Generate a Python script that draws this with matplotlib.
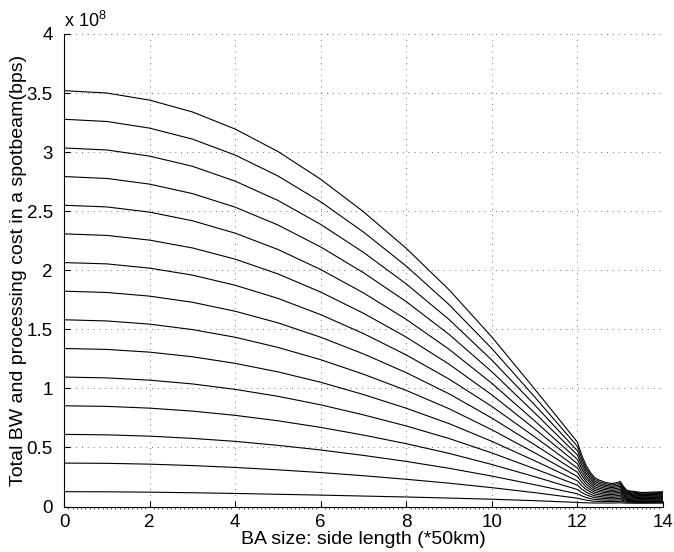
import matplotlib
matplotlib.use('Agg')
import matplotlib.pyplot as plt
from matplotlib.ticker import MultipleLocator, FuncFormatter

plt.rcParams['font.family'] = ['Liberation Sans', 'DejaVu Sans']
plt.rcParams['mathtext.default'] = 'regular'

# BA side length (*50km); values below are in units of 1e8 bps
x_main = [0, 1, 2, 3, 4, 5, 6, 7, 8, 9, 10, 11, 12]
x_tail = [12.1, 12.2, 12.3, 12.4, 12.5, 12.65, 12.8, 12.95, 13.0, 13.08, 13.16, 13.5, 14.0]

# one row per curve, bottom curve first (x = 0..12)
cost_main = [
    [0.126, 0.125, 0.122, 0.117, 0.111, 0.104, 0.097, 0.089, 0.081, 0.072, 0.062, 0.050, 0.035],
    [0.368, 0.366, 0.359, 0.347, 0.331, 0.311, 0.288, 0.261, 0.231, 0.198, 0.160, 0.118, 0.071],
    [0.611, 0.607, 0.596, 0.577, 0.552, 0.518, 0.479, 0.433, 0.382, 0.324, 0.258, 0.185, 0.108],
    [0.853, 0.848, 0.833, 0.808, 0.772, 0.726, 0.670, 0.605, 0.532, 0.450, 0.356, 0.253, 0.144],
    [1.096, 1.089, 1.070, 1.038, 0.992, 0.933, 0.861, 0.776, 0.682, 0.576, 0.454, 0.320, 0.181],
    [1.338, 1.330, 1.307, 1.268, 1.212, 1.140, 1.052, 0.948, 0.832, 0.702, 0.552, 0.388, 0.217],
    [1.581, 1.571, 1.544, 1.498, 1.433, 1.347, 1.243, 1.120, 0.983, 0.828, 0.650, 0.455, 0.254],
    [1.823, 1.812, 1.781, 1.729, 1.653, 1.555, 1.433, 1.292, 1.133, 0.954, 0.749, 0.523, 0.290],
    [2.065, 2.054, 2.018, 1.959, 1.873, 1.762, 1.624, 1.464, 1.283, 1.079, 0.847, 0.590, 0.326],
    [2.308, 2.295, 2.255, 2.189, 2.094, 1.969, 1.815, 1.636, 1.434, 1.205, 0.945, 0.658, 0.363],
    [2.550, 2.536, 2.492, 2.419, 2.314, 2.176, 2.006, 1.808, 1.584, 1.331, 1.043, 0.725, 0.399],
    [2.793, 2.777, 2.729, 2.649, 2.534, 2.383, 2.197, 1.979, 1.734, 1.457, 1.141, 0.793, 0.436],
    [3.035, 3.018, 2.966, 2.880, 2.754, 2.591, 2.388, 2.151, 1.884, 1.583, 1.239, 0.860, 0.472],
    [3.278, 3.259, 3.203, 3.110, 2.975, 2.798, 2.579, 2.323, 2.035, 1.709, 1.337, 0.928, 0.509],
    [3.520, 3.500, 3.440, 3.340, 3.195, 3.005, 2.770, 2.495, 2.185, 1.835, 1.435, 0.995, 0.545],
]

# same curves past x = 12
cost_tail = [
    [0.033, 0.032, 0.031, 0.030, 0.030, 0.030, 0.030, 0.031, 0.032, 0.030, 0.029, 0.028, 0.029],
    [0.062, 0.055, 0.050, 0.045, 0.044, 0.043, 0.042, 0.043, 0.045, 0.040, 0.037, 0.035, 0.036],
    [0.091, 0.077, 0.068, 0.061, 0.058, 0.055, 0.054, 0.056, 0.058, 0.050, 0.044, 0.041, 0.043],
    [0.119, 0.100, 0.087, 0.076, 0.072, 0.068, 0.065, 0.068, 0.071, 0.060, 0.052, 0.048, 0.050],
    [0.148, 0.123, 0.105, 0.091, 0.086, 0.080, 0.077, 0.081, 0.084, 0.069, 0.060, 0.054, 0.057],
    [0.177, 0.146, 0.124, 0.107, 0.100, 0.093, 0.089, 0.093, 0.097, 0.079, 0.067, 0.061, 0.064],
    [0.206, 0.168, 0.142, 0.122, 0.114, 0.105, 0.101, 0.106, 0.110, 0.089, 0.075, 0.067, 0.071],
    [0.235, 0.191, 0.161, 0.137, 0.128, 0.118, 0.113, 0.118, 0.123, 0.099, 0.082, 0.074, 0.078],
    [0.263, 0.214, 0.179, 0.153, 0.141, 0.130, 0.124, 0.130, 0.135, 0.109, 0.090, 0.080, 0.084],
    [0.292, 0.236, 0.198, 0.168, 0.155, 0.143, 0.136, 0.143, 0.148, 0.119, 0.098, 0.087, 0.091],
    [0.321, 0.259, 0.216, 0.184, 0.169, 0.155, 0.148, 0.155, 0.161, 0.129, 0.105, 0.093, 0.098],
    [0.350, 0.282, 0.235, 0.199, 0.183, 0.168, 0.160, 0.168, 0.174, 0.138, 0.113, 0.100, 0.105],
    [0.378, 0.305, 0.253, 0.214, 0.197, 0.180, 0.171, 0.180, 0.187, 0.148, 0.121, 0.106, 0.112],
    [0.407, 0.327, 0.272, 0.230, 0.211, 0.193, 0.183, 0.193, 0.200, 0.158, 0.128, 0.113, 0.119],
    [0.436, 0.350, 0.290, 0.245, 0.225, 0.205, 0.195, 0.205, 0.213, 0.168, 0.136, 0.119, 0.126],
]

fig = plt.figure(figsize=(6.74, 5.52), dpi=100)
ax = fig.add_axes([0.095, 0.0823, 0.8887, 0.8562])

x_all = x_main + x_tail
for m, t in zip(cost_main, cost_tail):
    ax.plot(x_all, m + t, color='k', lw=0.8)

ax.set_xlim(0, 14)
ax.set_ylim(0, 4)
ax.set_xticks(range(0, 15, 2))
ax.set_yticks([i * 0.5 for i in range(9)])
ax.yaxis.set_major_formatter(FuncFormatter(lambda v, p: '%g' % v))
ax.xaxis.set_minor_locator(MultipleLocator(0.1))

ax.tick_params(direction='in', labelsize=13.5, length=4, width=0.8,
               top=False, right=False)
ax.tick_params(axis='y', pad=8)
ax.tick_params(axis='x', pad=5)
ax.tick_params(axis='x', which='minor', length=1.5, width=0.5)

ax.grid(True, linestyle=(0, (1, 5)), color='0.45', lw=0.7)
ax.spines['top'].set_visible(False)
ax.spines['right'].set_visible(False)

ax.text(0, 1.015, r'x 10$^{8}$', transform=ax.transAxes, fontsize=13,
        ha='left', va='baseline')

ax.set_xlabel('BA size: side length (*50km)', fontsize=14, labelpad=0)
ax.set_ylabel('Total BW and processing cost in a spotbeam(bps)', fontsize=14, labelpad=0)

fig.savefig('out.png', dpi=100)
